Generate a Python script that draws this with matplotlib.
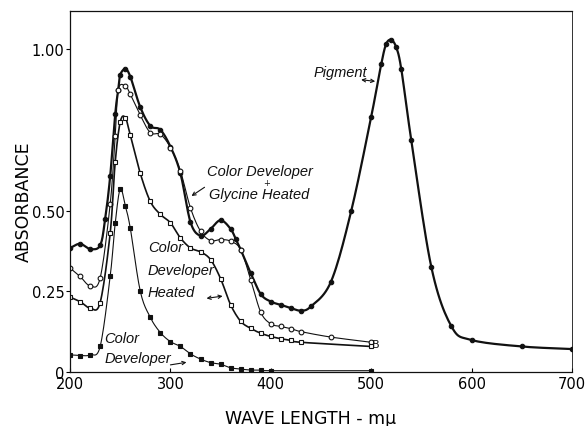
import numpy as np
import matplotlib
matplotlib.use('Agg')
import matplotlib.pyplot as plt

# data (wavelength in m-mu, absorbance)
pig_wl = [200, 210, 220, 230, 235, 240, 245, 248, 250, 255, 260, 270, 280, 290, 300, 310,
          320, 330, 340, 350, 360, 365, 370, 380, 390, 400, 410, 420, 430, 440, 460, 480,
          500, 510, 515, 520, 525, 530, 540, 560, 580, 600, 650, 700]
pig_abs = [0.384, 0.397, 0.381, 0.392, 0.474, 0.606, 0.798, 0.874, 0.920, 0.938, 0.915, 0.820,
           0.762, 0.750, 0.698, 0.615, 0.464, 0.422, 0.443, 0.470, 0.443, 0.412, 0.379, 0.306,
           0.241, 0.218, 0.208, 0.198, 0.190, 0.203, 0.280, 0.497, 0.790, 0.953, 1.016, 1.028,
           1.005, 0.938, 0.717, 0.324, 0.141, 0.099, 0.079, 0.071]

gly_wl = [200, 210, 220, 230, 240, 245, 248, 255, 260, 270, 280, 290, 300, 310, 320, 330,
          340, 350, 360, 370, 380, 390, 400, 410, 420, 430, 460, 500]
gly_abs = [0.322, 0.296, 0.267, 0.291, 0.520, 0.730, 0.874, 0.886, 0.860, 0.795, 0.741, 0.736,
           0.695, 0.622, 0.508, 0.436, 0.407, 0.410, 0.405, 0.379, 0.286, 0.185, 0.149, 0.141,
           0.134, 0.125, 0.108, 0.092]

heat_wl = [200, 210, 220, 230, 240, 245, 250, 255, 260, 270, 280, 290, 300, 310, 320, 330,
           340, 350, 360, 370, 380, 390, 400, 410, 420, 430, 500]
heat_abs = [0.232, 0.218, 0.198, 0.215, 0.430, 0.650, 0.774, 0.788, 0.734, 0.615, 0.528, 0.488,
            0.462, 0.415, 0.384, 0.372, 0.348, 0.289, 0.208, 0.157, 0.135, 0.120, 0.110, 0.103,
            0.098, 0.092, 0.079]

dev_wl = [200, 210, 220, 230, 240, 245, 250, 255, 260, 270, 280, 290, 300, 310, 320, 330,
          340, 350, 360, 370, 380, 390, 400, 500]
dev_abs = [0.053, 0.051, 0.053, 0.079, 0.296, 0.460, 0.567, 0.515, 0.446, 0.250, 0.169, 0.122,
           0.094, 0.079, 0.056, 0.040, 0.029, 0.024, 0.013, 0.009, 0.006, 0.006, 0.004, 0.004]

x_ticks = [200, 300, 400, 500, 600, 700]
y_ticks = [0, 0.25, 0.50, 1.00]
y_labels = ['0', '0.25', '0.50', '1.00']


def smooth(x, y, n=12):
    # catmull-rom through the measured points, only for drawing the line
    x = np.asarray(x, float)
    y = np.asarray(y, float)
    px = np.concatenate([[2 * x[0] - x[1]], x, [2 * x[-1] - x[-2]]])
    py = np.concatenate([[2 * y[0] - y[1]], y, [2 * y[-1] - y[-2]]])
    xs, ys = [], []
    t = np.linspace(0, 1, n, endpoint=False)
    for i in range(1, len(px) - 2):
        for arr, out in ((px, xs), (py, ys)):
            p0, p1, p2, p3 = arr[i - 1:i + 3]
            out.append(0.5 * (2 * p1 + (-p0 + p2) * t + (2 * p0 - 5 * p1 + 4 * p2 - p3) * t ** 2
                              + (-p0 + 3 * p1 - 3 * p2 + p3) * t ** 3))
    xs.append([x[-1]])
    ys.append([y[-1]])
    return np.concatenate(xs), np.concatenate(ys)


fig = plt.figure(figsize=(5.86, 4.27), dpi=100)
ax = fig.add_axes([0.1195, 0.1265, 0.8565, 0.8455])

ink = '#111111'
for wl, ab, mk, fc, lw, ms in [
        (pig_wl, pig_abs, 'o', ink, 1.6, 3.2),
        (gly_wl, gly_abs, 'o', 'white', 0.8, 3.4),
        (heat_wl, heat_abs, 's', 'white', 1.2, 3.2),
        (dev_wl, dev_abs, 's', ink, 0.8, 3.4)]:
    sx, sy = smooth(wl, ab)
    ax.plot(sx, sy, '-', color=ink, lw=lw)
    ax.plot(wl, ab, mk, ms=ms, mfc=fc, mec=ink, mew=0.8, ls='none')

ax.set_xlim(200, 700)
ax.set_ylim(0, 1.118)
ax.set_xticks(x_ticks)
ax.set_yticks(y_ticks)
ax.set_yticklabels(y_labels)
ax.tick_params(axis='x', direction='in', length=3, labelsize=10.5, pad=3)
ax.tick_params(axis='y', direction='out', length=3, labelsize=10.5, pad=1)
for s in ax.spines.values():
    s.set_linewidth(0.9)
    s.set_color(ink)
ax.spines['right'].set_linewidth(0.6)

ax.set_ylabel('ABSORBANCE', fontsize=12.5)
ax.yaxis.set_label_coords(-0.074, 0.474)
ax.set_xlabel('WAVE LENGTH - mμ', fontsize=12.5)
ax.xaxis.set_label_coords(0.48, -0.103)

lab = dict(family='Liberation Sans', style='italic', fontsize=10.5, color=ink)
arr = dict(lw=0.8, color=ink, shrinkA=0, shrinkB=0, mutation_scale=6)
ax.text(469, 0.93, 'Pigment', ha='center', va='center', **lab)
ax.annotate('', xy=(504, 0.90), xytext=(490, 0.905), arrowprops=dict(arrowstyle='<->', **arr))
ax.text(389, 0.621, 'Color Developer', ha='center', va='center', **lab)
ax.text(396, 0.586, '+', ha='center', va='center', fontsize=6, color=ink)
ax.text(388, 0.55, 'Glycine Heated', ha='center', va='center', **lab)
ax.annotate('', xy=(321, 0.545), xytext=(334, 0.572), arrowprops=dict(arrowstyle='->', **arr))
ax.text(277.5, 0.317, 'Color\nDeveloper\nHeated', ha='left', va='center',
        linespacing=1.8, **lab)
ax.annotate('', xy=(352, 0.235), xytext=(336, 0.228), arrowprops=dict(arrowstyle='<->', **arr))
ax.text(234, 0.075, 'Color\nDeveloper', ha='left', va='center', linespacing=1.55, **lab)
ax.annotate('', xy=(316, 0.03), xytext=(300, 0.022), arrowprops=dict(arrowstyle='->', **arr))
ax.text(501, 0.086, 'B', ha='left', va='center', fontsize=8, color=ink)

fig.savefig('out.png', dpi=100)
